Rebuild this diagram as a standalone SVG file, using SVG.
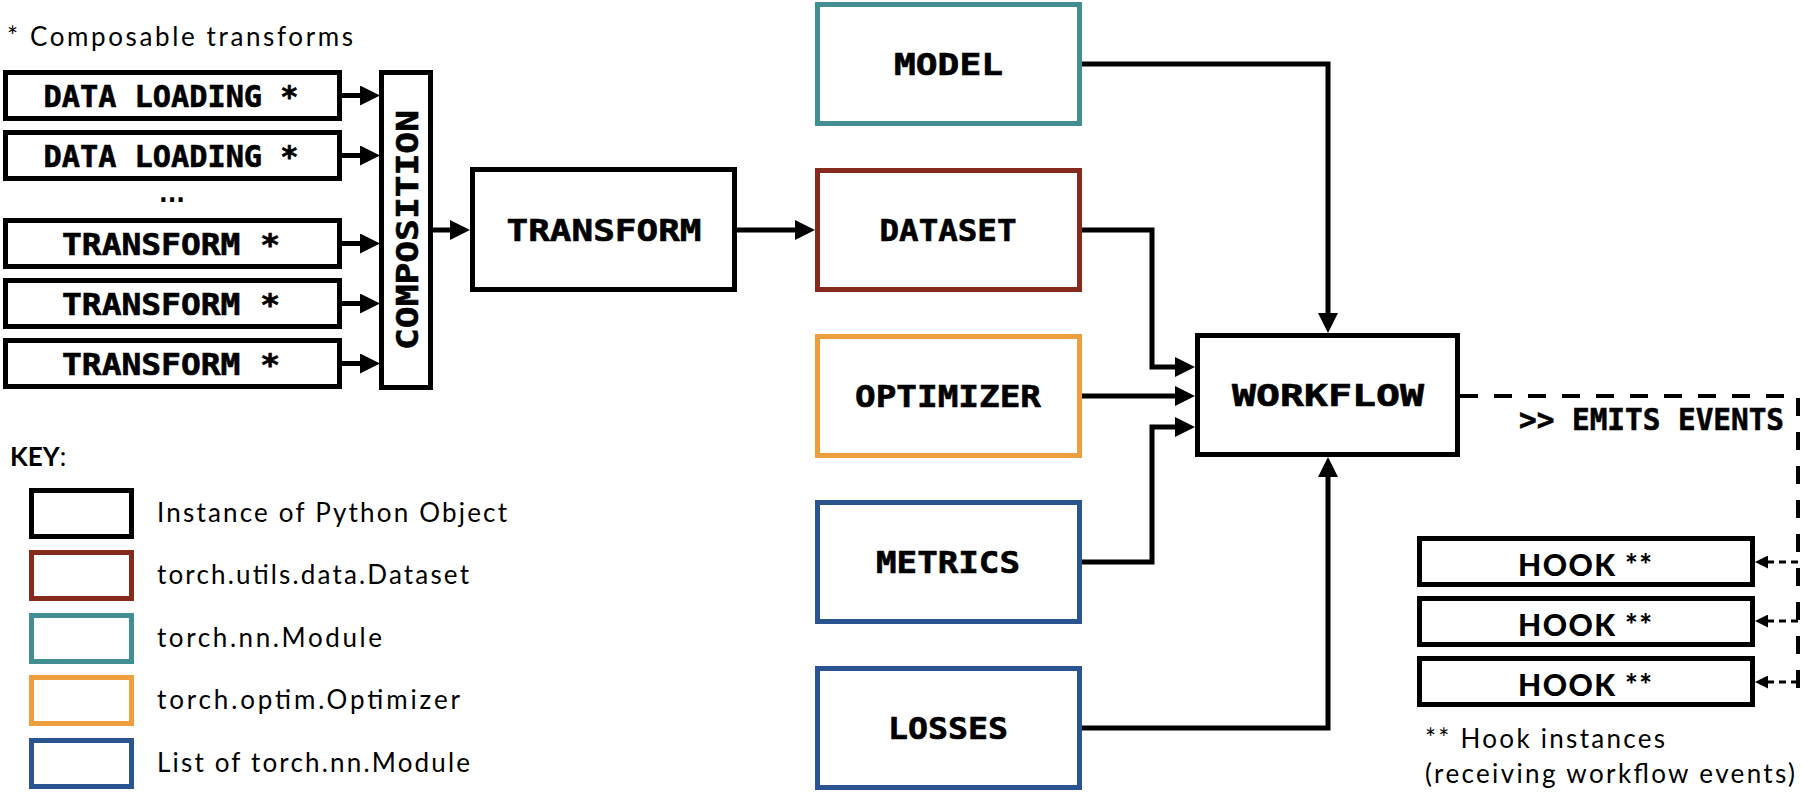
<svg xmlns="http://www.w3.org/2000/svg" width="1802" height="806" viewBox="0 0 1802 806">
<style>
.box{fill:#fff;stroke:#000;stroke-width:5}
.red{stroke:#862A1D}
.teal{stroke:#438E92}
.orange{stroke:#EE9E3C}
.blue{stroke:#2A5591}
.lbl{font-family:"DejaVu Sans Mono","Liberation Mono",monospace;font-weight:bold;font-size:30px;text-anchor:middle;fill:#000;stroke:#000;stroke-width:0.6}
.body{font-family:Lato,"Noto Sans",sans-serif;font-size:26px;fill:#000}
.hook{font-family:Lato,"Noto Sans",sans-serif;font-weight:900;font-size:30px;text-anchor:middle;fill:#000}
.conn{fill:none;stroke:#000;stroke-width:5}
.dash{fill:none;stroke:#000;stroke-width:4;stroke-dasharray:18 16}
.sdash{fill:none;stroke:#000;stroke-width:3;stroke-dasharray:7 5}
</style>
<defs>
<marker id="arr" markerUnits="userSpaceOnUse" markerWidth="20" markerHeight="20" refX="0" refY="10" orient="auto" viewBox="0 0 20 20">
<path d="M0,0 L20,10 L0,20 Z" fill="#000"/>
</marker>
<marker id="arrs" markerUnits="userSpaceOnUse" markerWidth="13" markerHeight="13" refX="0" refY="6.5" orient="auto" viewBox="0 0 13 13">
<path d="M0,0 L13,6.5 L0,13 Z" fill="#000"/>
</marker>
</defs>
<rect width="1802" height="806" fill="#fff"/>

<text class="body" x="7" y="46" textLength="346">* Composable transforms</text>

<g id="dl1"><rect class="box" x="5.5" y="72.5" width="334" height="46"/><text class="lbl" x="171" y="107" textLength="255" lengthAdjust="spacingAndGlyphs">DATA LOADING *</text></g>
<g id="dl2"><rect class="box" x="5.5" y="132.5" width="334" height="46"/><text class="lbl" x="171" y="167" textLength="255" lengthAdjust="spacingAndGlyphs">DATA LOADING *</text></g>
<text x="172" y="202" font-family="'DejaVu Sans', sans-serif" font-weight="bold" font-size="24" text-anchor="middle" textLength="26" lengthAdjust="spacingAndGlyphs">...</text>
<g id="tf1"><rect class="box" x="5.5" y="220.5" width="334" height="46"/><text class="lbl" x="171" y="255" textLength="218" lengthAdjust="spacingAndGlyphs">TRANSFORM *</text></g>
<g id="tf2"><rect class="box" x="5.5" y="280.5" width="334" height="46"/><text class="lbl" x="171" y="315" textLength="218" lengthAdjust="spacingAndGlyphs">TRANSFORM *</text></g>
<g id="tf3"><rect class="box" x="5.5" y="340.5" width="334" height="46"/><text class="lbl" x="171" y="375" textLength="218" lengthAdjust="spacingAndGlyphs">TRANSFORM *</text></g>

<g id="composition"><rect class="box" x="381.5" y="72.5" width="49" height="315"/><text class="lbl" transform="translate(418,230) rotate(-90)" x="0" y="0" textLength="240" lengthAdjust="spacingAndGlyphs">COMPOSITION</text></g>

<g id="transform"><rect class="box" x="472.5" y="169.5" width="262" height="120"/><text class="lbl" x="604" y="241" textLength="195" lengthAdjust="spacingAndGlyphs">TRANSFORM</text></g>

<g id="model"><rect class="box teal" x="817.5" y="4.5" width="262" height="119"/><text class="lbl" x="948.5" y="75" textLength="109" lengthAdjust="spacingAndGlyphs">MODEL</text></g>
<g id="dataset"><rect class="box red" x="817.5" y="170.5" width="262" height="119"/><text class="lbl" x="948" y="241" textLength="137" lengthAdjust="spacingAndGlyphs">DATASET</text></g>
<g id="optimizer"><rect class="box orange" x="817.5" y="336.5" width="262" height="119"/><text class="lbl" x="948" y="407" textLength="186" lengthAdjust="spacingAndGlyphs">OPTIMIZER</text></g>
<g id="metrics"><rect class="box blue" x="817.5" y="502.5" width="262" height="119"/><text class="lbl" x="948" y="573" textLength="144" lengthAdjust="spacingAndGlyphs">METRICS</text></g>
<g id="losses"><rect class="box blue" x="817.5" y="668.5" width="262" height="119"/><text class="lbl" x="948" y="739" textLength="120" lengthAdjust="spacingAndGlyphs">LOSSES</text></g>

<g id="workflow"><rect class="box" x="1197.5" y="335.5" width="260" height="119"/><text class="lbl" x="1328" y="406" textLength="192" lengthAdjust="spacingAndGlyphs">WORKFLOW</text></g>

<g id="hook1"><rect class="box" x="1419.5" y="538.5" width="333" height="46"/><text class="hook" x="1585" y="576" textLength="134">HOOK **</text></g>
<g id="hook2"><rect class="box" x="1419.5" y="598.5" width="333" height="46"/><text class="hook" x="1585" y="636" textLength="134">HOOK **</text></g>
<g id="hook3"><rect class="box" x="1419.5" y="658.5" width="333" height="46"/><text class="hook" x="1585" y="696" textLength="134">HOOK **</text></g>

<g id="connectors">
<path class="conn" marker-end="url(#arr)" d="M342,95.5 H360"/>
<path class="conn" marker-end="url(#arr)" d="M342,155.5 H360"/>
<path class="conn" marker-end="url(#arr)" d="M342,243.5 H360"/>
<path class="conn" marker-end="url(#arr)" d="M342,303.5 H360"/>
<path class="conn" marker-end="url(#arr)" d="M342,363.5 H360"/>
<path class="conn" marker-end="url(#arr)" d="M433,230 H450"/>
<path class="conn" marker-end="url(#arr)" d="M737,230 H795"/>
<path class="conn" marker-end="url(#arr)" d="M1082,64 H1328 V313"/>
<path class="conn" marker-end="url(#arr)" d="M1082,230 H1152 V367 H1175"/>
<path class="conn" marker-end="url(#arr)" d="M1082,396 H1175"/>
<path class="conn" marker-end="url(#arr)" d="M1082,562 H1152 V427 H1175"/>
<path class="conn" marker-end="url(#arr)" d="M1082,728 H1328 V477"/>
<path class="dash" d="M1460,396 H1798 V688"/>
<path class="sdash" marker-end="url(#arrs)" d="M1798,562 H1768"/>
<path class="sdash" marker-end="url(#arrs)" d="M1798,621 H1768"/>
<path class="sdash" marker-end="url(#arrs)" d="M1798,682 H1768"/>
<text class="lbl" x="1651.5" y="430" font-size="27" textLength="265" lengthAdjust="spacingAndGlyphs">&gt;&gt; EMITS EVENTS</text>
</g>

<text x="10" y="466" font-family="Lato, 'Noto Sans', sans-serif" font-size="26"><tspan font-weight="bold">KEY</tspan>:</text>
<g id="key">
<rect class="box" x="31.5" y="490.5" width="100" height="46"/>
<rect class="box red" x="31.5" y="552.5" width="100" height="46"/>
<rect class="box teal" x="31.5" y="615.5" width="100" height="46"/>
<rect class="box orange" x="31.5" y="677.5" width="100" height="46"/>
<rect class="box blue" x="31.5" y="740.5" width="100" height="46"/>
<text class="body" x="157" y="522" textLength="350">Instance of Python Object</text>
<text class="body" x="157" y="584" textLength="312">torch.utils.data.Dataset</text>
<text class="body" x="157" y="647" textLength="225">torch.nn.Module</text>
<text class="body" x="157" y="709" textLength="303">torch.optim.Optimizer</text>
<text class="body" x="157" y="772" textLength="313">List of torch.nn.Module</text>
</g>

<text class="body" x="1425" y="748" textLength="240">** Hook instances</text>
<text class="body" x="1425" y="783" textLength="370">(receiving workflow events)</text>
</svg>
